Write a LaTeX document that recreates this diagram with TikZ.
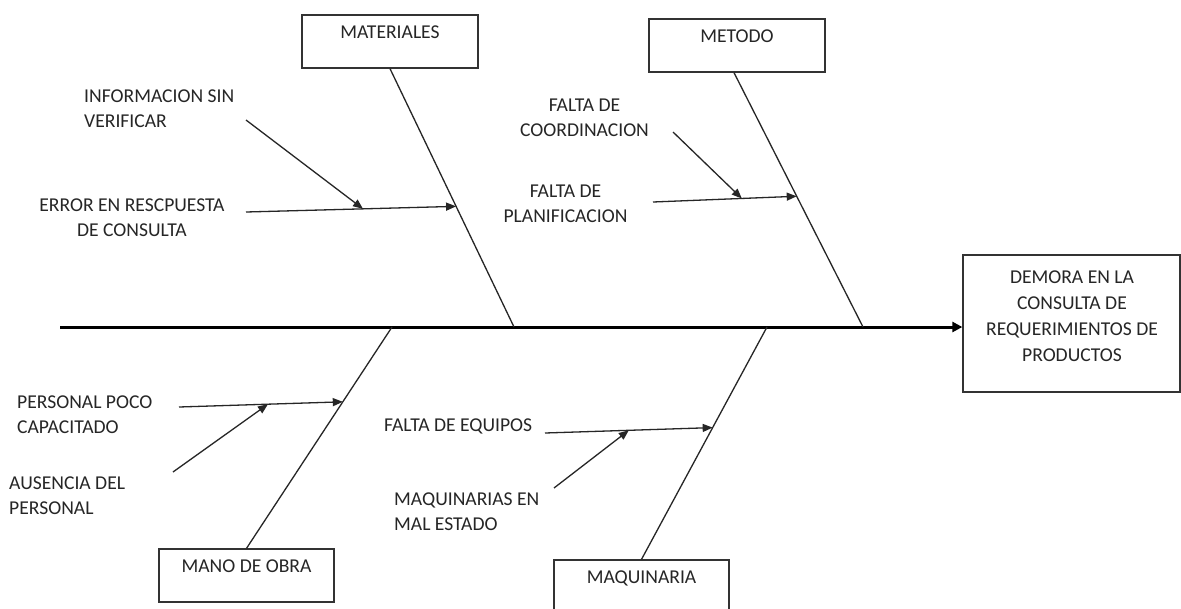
\documentclass[tikz,border=0pt]{standalone}
\usepackage{fontspec}
\setmainfont{Carlito}
\usetikzlibrary{arrows.meta,calc}
\begin{document}
\begin{tikzpicture}[x=1pt,y=-1pt,
  every node/.style={font=\fontsize{19.6}{25}\selectfont, text=black!85, inner sep=0pt},
  catbox/.style={draw=black!80, line width=1.3pt, minimum width=176pt,
    text height=23pt, text depth=30pt, inner ysep=0pt},
  effbox/.style={draw=black!80, line width=1.3pt, minimum width=217pt, minimum height=137pt},
  bone/.style={draw=black!85, line width=1.3pt},
  cause/.style={draw=black!85, line width=1.3pt, -{Triangle[length=10pt,width=8pt]}},
  spine/.style={draw=black, line width=3pt, -{Triangle[length=10pt,width=10pt]}},
]
\fill[white] (0,0) rectangle (1181,608);
\useasboundingbox (0,0) rectangle (1181,608);

% effect (head of the fish); multi-line nodes sit on their last baseline
\node[effbox] (effect) at (1071.5,323.5) {};
\node[align=center, anchor=base, font=\fontsize{19.6}{26}\selectfont] (efftext) at (1072,361)
  {DEMORA EN LA\\CONSULTA DE\\REQUERIMIENTOS DE\\PRODUCTOS};

% category boxes
\node[catbox] (mat) at (390,41.5) {MATERIALES};
\node[catbox] (met) at (737,45.5) {METODO};
\node[catbox, minimum width=175pt] (mano) at (246.5,575.5) {MANO DE OBRA};
\node[catbox, minimum width=175pt] (maq) at (641.5,586.5) {MAQUINARIA};

% spine
\coordinate (tail) at (60,327);
\draw[spine] (tail) -- (tail -| effect.west);

% joints of the bones on the spine
\coordinate (jm) at (514,327);
\coordinate (jt) at (863,327);
\coordinate (jo) at (392,327);
\coordinate (jq) at (767,327);

% bones
\draw[bone] (mat.south) -- (jm);
\draw[bone] ([xshift=-3pt]met.south) -- (jt);
\draw[bone] (mano.north) -- (jo);
\draw[bone] (maq.north) -- (jq);

% cause texts
\node[align=left, anchor=base west] (inf) at (84,127) {INFORMACION SIN\\VERIFICAR};
\node[align=center, anchor=base] (err) at (132,236) {ERROR EN RESCPUESTA\\DE CONSULTA};
\node[align=center, anchor=base] (coo) at (584.5,136) {FALTA DE\\COORDINACION};
\node[align=center, anchor=base] (pla) at (565.5,222) {FALTA DE\\PLANIFICACION};
\node[align=left, anchor=base west] (per) at (17,433) {PERSONAL POCO\\CAPACITADO};
\node[align=left, anchor=base west] (aus) at (9,514) {AUSENCIA DEL\\PERSONAL};
\node[anchor=base west] (equ) at (384,431) {FALTA DE EQUIPOS};
\node[align=left, anchor=base west] (mal) at (394,530) {MAQUINARIAS EN\\MAL ESTADO};

% MATERIALES causes
\coordinate (errS) at (246,212);
\coordinate (errT) at ($(mat.south)!0.533!(jm)$);
\draw[cause] (errS) -- (errT);
\coordinate (infS) at (246,120);
\draw[cause] (infS) -- ($(errS)!0.557!(errT)$);

% METODO causes
\coordinate (plaS) at (653,202);
\coordinate (plaT) at ($([xshift=-3pt]met.south)!0.486!(jt)$);
\draw[cause] (plaS) -- (plaT);
\coordinate (cooS) at (673,132);
\draw[cause] (cooS) -- ($(plaS)!0.618!(plaT)$);

% MANO DE OBRA causes
\coordinate (perS) at (179,407);
\coordinate (perT) at ($(mano.north)!0.662!(jo)$);
\draw[cause] (perS) -- (perT);
\coordinate (ausS) at (173,472);
\draw[cause] (ausS) -- ($(perS)!0.543!(perT)$);

% MAQUINARIA causes
\coordinate (equS) at (545,433);
\coordinate (equT) at ($(maq.north)!0.567!(jq)$);
\draw[cause] (equS) -- (equT);
\coordinate (malS) at (554,488);
\draw[cause] (malS) -- ($(equS)!0.50!(equT)$);
\end{tikzpicture}
\end{document}
